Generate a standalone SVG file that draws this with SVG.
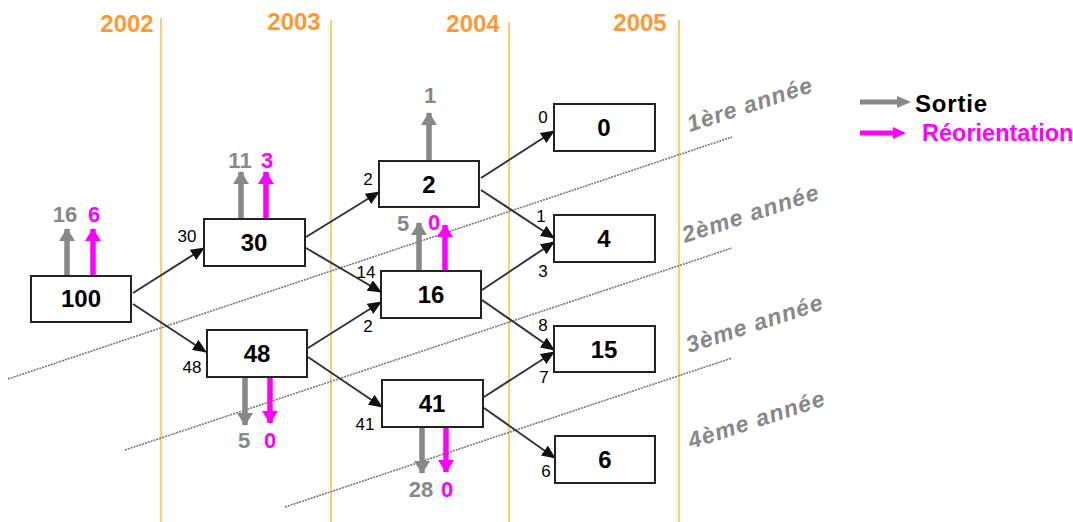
<svg xmlns="http://www.w3.org/2000/svg" width="1073" height="522" viewBox="0 0 1073 522">
<style>
.yl{stroke:#FFCC77;stroke-width:2;fill:none}
.yr{font-family:"Liberation Sans",Arial,sans-serif;font-weight:bold;font-size:24px;fill:#FF9933;text-anchor:middle}
.box{fill:#fff;stroke:#222;stroke-width:2}
.bt{font-family:"Liberation Sans",Arial,sans-serif;font-weight:bold;font-size:24px;fill:#000;text-anchor:middle}
.sm{font-family:"Liberation Sans",Arial,sans-serif;font-size:17px;fill:#000;text-anchor:middle}
.c{stroke:#333;stroke-width:2;fill:none;marker-end:url(#ah)}
.g{stroke:#888;stroke-width:5.5;fill:none;marker-end:url(#gh)}
.p{stroke:#FF00FF;stroke-width:5.5;fill:none;marker-end:url(#ph)}
.gt{font-family:"Liberation Sans",Arial,sans-serif;font-weight:bold;font-size:22px;fill:#888;text-anchor:middle}
.pt{font-family:"Liberation Sans",Arial,sans-serif;font-weight:bold;font-size:22px;fill:#FF00FF;text-anchor:middle}
.dl{stroke:#777;stroke-width:1.6;stroke-dasharray:2 1;fill:none}
.an{font-family:"Liberation Sans",Arial,sans-serif;font-weight:bold;font-style:italic;font-size:23px;fill:#888}
</style>
<defs>
<marker id="ah" markerUnits="userSpaceOnUse" markerWidth="14" markerHeight="12" refX="13" refY="6" orient="auto"><path d="M0,0 L14,6 L0,12 z" fill="#111"/></marker>
<marker id="gh" markerUnits="userSpaceOnUse" markerWidth="13" markerHeight="16" refX="12" refY="8" orient="auto"><path d="M0,0 L13,8 L0,16 z" fill="#888"/></marker>
<marker id="ph" markerUnits="userSpaceOnUse" markerWidth="13" markerHeight="16" refX="12" refY="8" orient="auto"><path d="M0,0 L13,8 L0,16 z" fill="#FF00FF"/></marker>
</defs>
<rect width="1073" height="522" fill="#fff"/>
<g id="years">
<line class="yl" x1="161" y1="18" x2="161" y2="522"/>
<line class="yl" x1="331" y1="20" x2="331" y2="522"/>
<line class="yl" x1="509" y1="22" x2="509" y2="522"/>
<line class="yl" x1="679" y1="20" x2="679" y2="522"/>
<text class="yr" x="127" y="32">2002</text>
<text class="yr" x="294" y="30">2003</text>
<text class="yr" x="473" y="32">2004</text>
<text class="yr" x="640" y="31">2005</text>
</g>
<g id="cohorts">
<line class="dl" x1="8" y1="379" x2="732" y2="137"/>
<line class="dl" x1="125" y1="450" x2="732" y2="248"/>
<line class="dl" x1="285" y1="507" x2="732" y2="358"/>
<text class="an" transform="translate(690,132) rotate(-18)" textLength="130">1ère année</text>
<text class="an" transform="translate(685,243) rotate(-18)" textLength="142">2ème année</text>
<text class="an" transform="translate(689,353) rotate(-18)" textLength="142">3ème année</text>
<text class="an" transform="translate(691,449) rotate(-18)" textLength="142">4ème année</text>
</g>
<g id="connectors">
<line class="c" x1="133" y1="293" x2="204" y2="248"/>
<line class="c" x1="133" y1="304" x2="206" y2="352"/>
<line class="c" x1="306" y1="237" x2="379" y2="192"/>
<line class="c" x1="306" y1="248" x2="381" y2="292"/>
<line class="c" x1="308" y1="348" x2="381" y2="302"/>
<line class="c" x1="308" y1="357" x2="382" y2="407"/>
<line class="c" x1="481" y1="178" x2="554" y2="131"/>
<line class="c" x1="481" y1="190" x2="554" y2="238"/>
<line class="c" x1="482" y1="290" x2="554" y2="242"/>
<line class="c" x1="482" y1="300" x2="554" y2="350"/>
<line class="c" x1="484" y1="397" x2="554" y2="352"/>
<line class="c" x1="484" y1="408" x2="555" y2="458"/>
<line class="g" x1="67" y1="276" x2="67" y2="229"/>
<line class="p" x1="93" y1="276" x2="93" y2="229"/>
<line class="g" x1="241" y1="219" x2="241" y2="172"/>
<line class="p" x1="266" y1="219" x2="266" y2="172"/>
<line class="g" x1="245" y1="377" x2="245" y2="425"/>
<line class="p" x1="270" y1="377" x2="270" y2="423"/>
<line class="g" x1="429" y1="161" x2="429" y2="113"/>
<line class="g" x1="419" y1="271" x2="419" y2="223"/>
<line class="p" x1="445" y1="271" x2="445" y2="225"/>
<line class="g" x1="422" y1="427" x2="422" y2="473"/>
<line class="p" x1="446" y1="427" x2="446" y2="472"/>
</g>
<g id="flowlabels">
<text class="sm" x="187" y="242">30</text>
<text class="sm" x="192" y="373">48</text>
<text class="sm" x="368" y="185">2</text>
<text class="sm" x="366" y="278">14</text>
<text class="sm" x="368" y="332">2</text>
<text class="sm" x="365" y="430">41</text>
<text class="sm" x="543" y="123">0</text>
<text class="sm" x="541" y="222">1</text>
<text class="sm" x="543" y="277">3</text>
<text class="sm" x="543" y="331">8</text>
<text class="sm" x="544" y="383">7</text>
<text class="sm" x="546" y="477">6</text>
<text class="gt" x="65" y="222">16</text>
<text class="pt" x="94" y="222">6</text>
<text class="gt" x="240" y="168">11</text>
<text class="pt" x="267" y="168">3</text>
<text class="gt" x="244" y="448">5</text>
<text class="pt" x="270" y="448">0</text>
<text class="gt" x="430" y="103">1</text>
<text class="gt" x="403" y="231">5</text>
<text class="pt" x="434" y="230">0</text>
<text class="gt" x="421" y="497">28</text>
<text class="pt" x="447" y="497">0</text>
</g>
<g id="n100"><rect class="box" x="31" y="276" width="100" height="46"/><text class="bt" x="81" y="307">100</text></g>
<g id="n30"><rect class="box" x="204" y="219" width="101" height="47"/><text class="bt" x="254" y="251">30</text></g>
<g id="n48"><rect class="box" x="207" y="330" width="100" height="47"/><text class="bt" x="257" y="362">48</text></g>
<g id="n2"><rect class="box" x="379" y="161" width="100" height="46"/><text class="bt" x="429" y="193">2</text></g>
<g id="n16"><rect class="box" x="381" y="271" width="100" height="47"/><text class="bt" x="431" y="303">16</text></g>
<g id="n41"><rect class="box" x="382" y="380" width="101" height="47"/><text class="bt" x="432" y="412">41</text></g>
<g id="n0"><rect class="box" x="554" y="104" width="101" height="47"/><text class="bt" x="604" y="136">0</text></g>
<g id="n4"><rect class="box" x="554" y="215" width="101" height="47"/><text class="bt" x="604" y="247">4</text></g>
<g id="n15"><rect class="box" x="554" y="326" width="101" height="46"/><text class="bt" x="604" y="358">15</text></g>
<g id="n6"><rect class="box" x="555" y="436" width="100" height="47"/><text class="bt" x="605" y="468">6</text></g>
<g id="legend">
<line x1="860" y1="102" x2="899" y2="102" stroke="#888" stroke-width="5"/>
<path d="M897,96 L911,102 L897,108 z" fill="#888"/>
<text x="915" y="112" font-family="Liberation Sans,Arial,sans-serif" font-weight="bold" font-size="24" fill="#000" textLength="72">Sortie</text>
<line x1="860" y1="133" x2="895" y2="133" stroke="#FF00FF" stroke-width="5"/>
<path d="M893,127 L906,133 L893,139 z" fill="#FF00FF"/>
<text x="922" y="141" font-family="Liberation Sans,Arial,sans-serif" font-weight="bold" font-size="23.5" fill="#FF00FF">Réorientation</text>
</g>
</svg>
